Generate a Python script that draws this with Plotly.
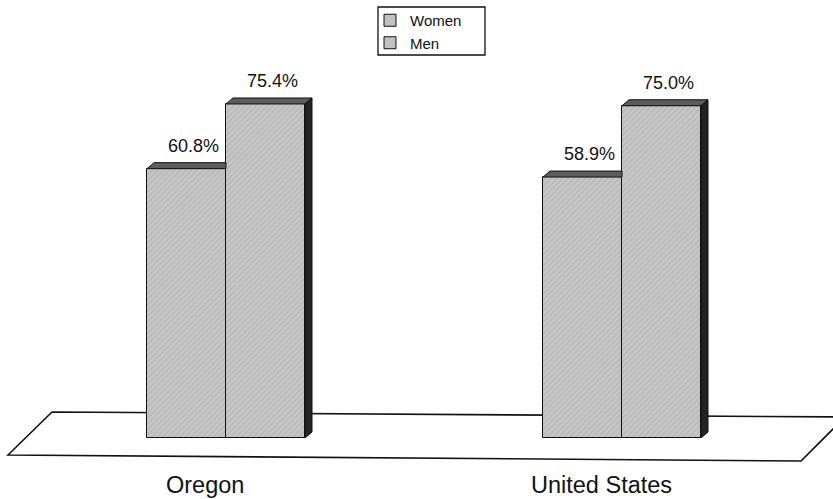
import plotly.graph_objects as go

# Data
categories = ["Oregon", "United States"]
series_names = ["Women", "Men"]
women = [60.8, 58.9]
men = [75.4, 75.0]
value_labels_women = ["60.8%", "58.9%"]
value_labels_men = ["75.4%", "75.0%"]

# Layout constants (pixel geometry of the page)
W, H = 833, 499
BASE_PX = 438            # pixel row of the 0% baseline
PX_PER_PCT = 4.43        # vertical pixels per percentage point
GROUP_CENTERS = [226, 622]
BAR_W = 79
DX = 7                   # depth offset of the 3-D faces, px
DY = 6 / PX_PER_PCT      # depth offset in percent units
LABEL_SHIFT = -21        # category labels sit on the floor's front edge

FONT = "Liberation Sans, Arial, Helvetica, sans-serif"
FRONT = dict(color="#c4c4c4", line=dict(color="#111111", width=1),
             pattern=dict(shape="/", size=4, solidity=0.25,
                          fgcolor="#9a9a9a", bgcolor="#c6c6c6"))
TOP_COLOR = "#5c5c5c"
SIDE_COLOR = "#232323"


def paper_y(py):
    return 1 - py / H


fig = go.Figure()

series = [women, men]
for s, (name, vals) in enumerate(zip(series_names, series)):
    xs = [c + (s - 0.5) * BAR_W for c in GROUP_CENTERS]
    fig.add_trace(go.Bar(
        x=xs, y=vals, width=BAR_W, name=name, marker=FRONT,
        legendgroup=name, showlegend=True, hoverinfo="skip",
    ))

# Top and side faces for the 3-D look
for s, vals in enumerate(series):
    for c, v in zip(GROUP_CENTERS, vals):
        x0 = c + (s - 1) * BAR_W
        x1 = x0 + BAR_W
        if s == 0:
            # the right part of the front bar's top hides behind its neighbour
            tx = [x0, x1, x1, x0 + DX, x0]
        else:
            tx = [x0, x1, x1 + DX, x0 + DX, x0]
        ty = [v, v, v + DY, v + DY, v]
        fig.add_trace(go.Scatter(
            x=tx, y=ty, fill="toself", fillcolor=TOP_COLOR, mode="lines",
            line=dict(color="#111111", width=1), showlegend=False, hoverinfo="skip",
        ))
        if s == 1:
            fig.add_trace(go.Scatter(
                x=[x1, x1 + DX, x1 + DX, x1, x1],
                y=[v, v + DY, DY, 0, v],
                fill="toself", fillcolor=SIDE_COLOR, mode="lines",
                line=dict(color="#111111", width=1), showlegend=False, hoverinfo="skip",
            ))

# Value labels
for s, (vals, labels) in enumerate(zip(series, [value_labels_women, value_labels_men])):
    for c, v, t in zip(GROUP_CENTERS, vals, labels):
        xc = c + (s - 1) * BAR_W + BAR_W / 2 + DX
        fig.add_annotation(x=xc, y=v + DY, text=t, showarrow=False,
                           yanchor="bottom", yshift=5,
                           font=dict(family=FONT, size=18, color="#111111"))

# Category labels
for c, name in zip(GROUP_CENTERS, categories):
    fig.add_annotation(x=c + LABEL_SHIFT, y=paper_y(485), yref="paper", text=name,
                       showarrow=False, xanchor="center", yanchor="middle",
                       font=dict(family=FONT, size=23.5, color="#111111"))

# Floor
floor = [(8, 455), (52, 412), (845, 417), (801, 461)]
path = "M " + " L ".join(f"{x},{paper_y(y)}" for x, y in floor) + " Z"
fig.add_shape(type="path", path=path, xref="x", yref="paper", layer="below",
              line=dict(color="#111111", width=1.6), fillcolor="white")

# Legend frame
fig.add_shape(type="rect", xref="x", yref="paper",
              x0=378, x1=485, y0=paper_y(55), y1=paper_y(7),
              line=dict(color="#111111", width=1.3), layer="above")

fig.update_layout(
    width=W, height=H, margin=dict(l=0, r=0, t=0, b=0),
    paper_bgcolor="white", plot_bgcolor="white",
    barmode="overlay", bargap=0,
    xaxis=dict(range=[0, W], visible=False, fixedrange=True),
    yaxis=dict(range=[-(H - BASE_PX) / PX_PER_PCT, BASE_PX / PX_PER_PCT],
               visible=False, fixedrange=True),
    legend=dict(x=370 / W, y=paper_y(4), xanchor="left", yanchor="top",
                borderwidth=0, bgcolor="rgba(0,0,0,0)",
                font=dict(family=FONT, size=15, color="#111111"),
                traceorder="normal", tracegroupgap=0),
    showlegend=True,
)

fig.write_html("out.html")
